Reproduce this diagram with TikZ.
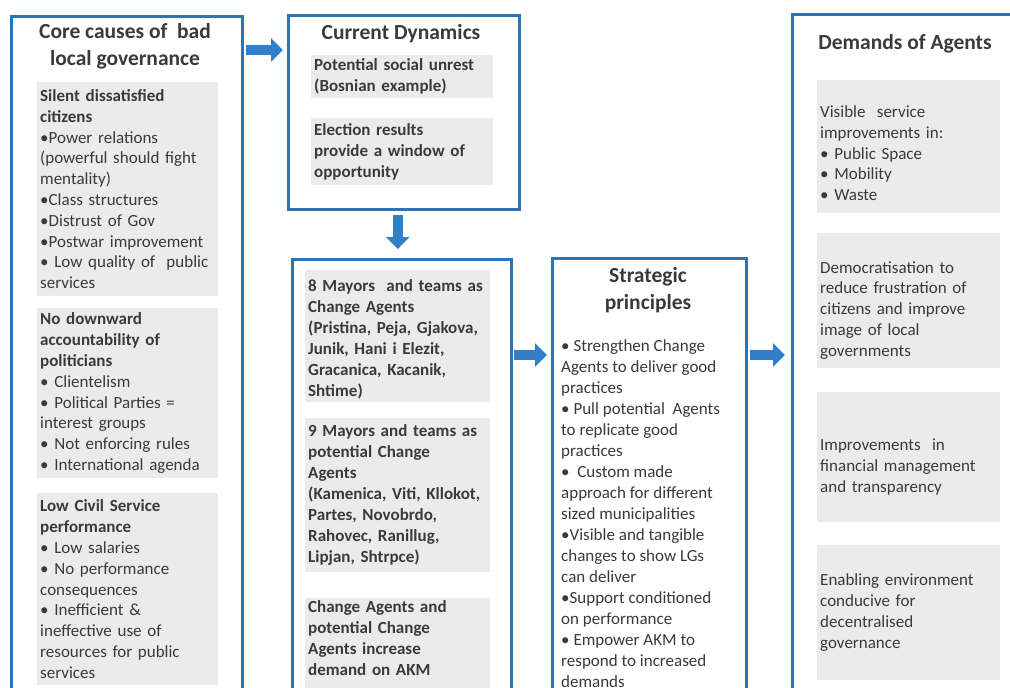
\documentclass[tikz,border=0pt]{standalone}
\usepackage{fontspec}
\setmainfont{Carlito}
\usetikzlibrary{arrows.meta}
\definecolor{bblue}{HTML}{2E74B5}
\definecolor{ablue}{HTML}{2F80C8}
\definecolor{gfill}{HTML}{EBEBEB}
\definecolor{tgray}{HTML}{3A3A3A}
\tikzset{
  outer/.style={draw=bblue, line width=2.6pt, fill=white, anchor=north west, inner sep=0pt},
  graybox/.style={fill=gfill, anchor=north west, align=left, inner xsep=3pt, inner ysep=2pt,
     text=tgray, font=\fontsize{17}{20.8}\selectfont},
  ttl/.style={text=tgray, align=center, font=\bfseries\fontsize{21.5}{27}\selectfont, inner sep=0pt},
  plain/.style={text=tgray, align=left, anchor=north west, inner sep=0pt, font=\fontsize{17}{21}\selectfont},
  blk/.style={draw=ablue, line width=10pt, -{Triangle[length=12pt,width=23pt]}, color=ablue}
}
\begin{document}
\begin{tikzpicture}[x=1pt,y=-1pt]
\useasboundingbox (0,0) rectangle (1010,688);
\clip (0,0) rectangle (1010,688);
\fill[white] (0,0) rectangle (1010,688);

% outer boxes
\node[outer, minimum width=231pt, minimum height=700pt] (b1) at (10,15) {};
\node[outer, minimum width=231pt, minimum height=194pt] (b2) at (287,14) {};
\node[outer, minimum width=219pt, minimum height=450pt] (b3) at (291,258) {};
\node[outer, minimum width=194pt, minimum height=450pt] (b4) at (551,257) {};
\node[outer, minimum width=240pt, minimum height=700pt] (b5) at (791,13) {};

% box 1
\node[ttl] (t1) at (125,46) {Core causes of \ bad\\local governance};
\node[graybox, text width=175pt, minimum height=214pt] (g11) at (37,82)
 {\textbf{Silent dissatisfied}\\\textbf{citizens}\\•Power relations\\(powerful should fight\\mentality)\\•Class structures\\•Distrust of Gov\\•Postwar improvement\\• Low quality of \ public\\services};
\node[graybox, text width=175pt, minimum height=170pt] (g12) at (37,308)
 {\textbf{No downward}\\\textbf{accountability of}\\\textbf{politicians}\\• Clientelism\\• Political Parties =\\interest groups\\• Not enforcing rules\\• International agenda};
\node[graybox, text width=175pt, minimum height=192pt] (g13) at (37,493)
 {\textbf{Low Civil Service}\\\textbf{performance}\\• Low salaries\\• No performance\\consequences\\• Inefficient \&\\ineffective use of\\resources for public\\services};

% box 2
\node[ttl] (t2) at (401,34) {Current Dynamics};
\node[graybox, text width=176pt, minimum height=43pt, font=\bfseries\fontsize{17}{21}\selectfont] (g21) at (311,55)
 {Potential social unrest\\(Bosnian example)};
\node[graybox, text width=176pt, minimum height=67pt, font=\bfseries\fontsize{17}{21}\selectfont] (g22) at (311,118)
 {Election results\\provide a window of\\opportunity};

% box 3
\node[graybox, text width=179pt, minimum height=132pt, font=\bfseries\fontsize{17}{21}\selectfont] (g31) at (305,270)
 {\rule{0pt}{19pt}8 Mayors \ and teams as\\Change Agents\\(Pristina, Peja, Gjakova,\\Junik, Hani i Elezit,\\Gracanica, Kacanik,\\Shtime)};
\node[graybox, text width=179pt, minimum height=154pt, font=\bfseries\fontsize{17}{21}\selectfont] (g32) at (305,418)
 {9 Mayors and teams as\\potential Change\\Agents\\(Kamenica, Viti, Kllokot,\\Partes, Novobrdo,\\Rahovec, Ranillug,\\Lipjan, Shtrpce)};
\node[graybox, text width=179pt, minimum height=97pt, font=\bfseries\fontsize{17}{21}\selectfont] (g33) at (305,598)
 {Change Agents and\\potential Change\\Agents increase\\demand on AKM\rule[-20pt]{0pt}{0pt}};

% box 4
\node[ttl] (t4) at (648,290) {Strategic\\principles};
\node[plain] (p4) at (561,339)
 {• Strengthen Change\\Agents to deliver good\\practices\\• Pull potential \ Agents\\to replicate good\\practices\\• \ Custom made\\approach for different\\sized municipalities\\•Visible and tangible\\changes to show LGs\\can deliver\\•Support conditioned\\on performance\\• Empower AKM to\\respond to increased\\demands};

% box 5
\node[ttl] (t5) at (905,44) {Demands of Agents};
\node[graybox, text width=177pt, minimum height=133pt] (g51) at (817,80)
 {\rule{0pt}{25pt}Visible \ service\\improvements in:\\• Public Space\\• Mobility\\• Waste};
\node[graybox, text width=177pt, minimum height=135pt] (g52) at (817,233)
 {\rule{0pt}{31pt}Democratisation to\\reduce frustration of\\citizens and improve\\image of local\\governments};
\node[graybox, text width=177pt, minimum height=130pt] (g53) at (817,392)
 {\rule{0pt}{31pt}Improvements \ in\\financial management\\and transparency};
\node[graybox, text width=177pt, minimum height=135pt] (g54) at (817,545)
 {Enabling environment\\conducive for\\decentralised\\governance};

% arrows
\draw[blk, shorten <=2pt, shorten >=4pt] ([yshift=-35pt]b1.north east) -- ([yshift=-35pt]b1.north east -| b2.west);
\draw[blk, shorten <=4pt, shorten >=9pt] ([xshift=-6pt]b2.south) -- ([xshift=-6pt]b2.south |- b3.north);
\draw[blk, shorten <=1pt, shorten >=4pt] ([yshift=-97pt]b3.north east) -- ([yshift=-97pt]b3.north east -| b4.west);
\draw[blk, shorten <=2pt, shorten >=6pt] ([yshift=-98pt]b4.north east) -- ([yshift=-98pt]b4.north east -| b5.west);
\end{tikzpicture}
\end{document}
